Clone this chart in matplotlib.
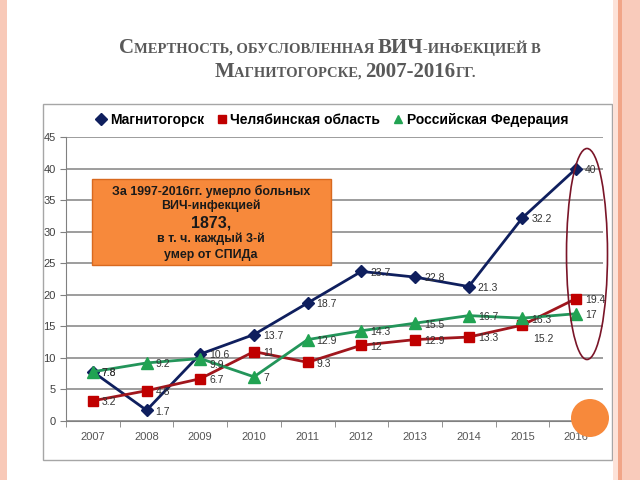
import matplotlib
matplotlib.use('Agg')
import matplotlib.pyplot as plt
import numpy as np
from matplotlib.patches import Rectangle, Ellipse

# data
years = ['2007', '2008', '2009', '2010', '2011', '2012', '2013', '2014', '2015', '2016']
magnitogorsk = [7.8, 1.7, 10.6, 13.7, 18.7, 23.7, 22.8, 21.3, 32.2, 40]
chelyabinsk = [3.2, 4.8, 6.7, 11, 9.3, 12, 12.9, 13.3, 15.2, 19.4]
russia = [7.8, 9.2, 9.9, 7, 12.9, 14.3, 15.5, 16.7, 16.3, 17]
names = ['Магнитогорск', 'Челябинская область', 'Российская Федерация']

W, H = 640, 480
fig = plt.figure(figsize=(6.4, 4.8), dpi=100)
fig.patch.set_facecolor('white')

def fx(px):
    return px / W

def fy(py):
    return 1 - py / H

# slide decorations
fig.add_artist(Rectangle((0, 0), fx(7), 1, transform=fig.transFigure, color='#f8c9b8', lw=0))
fig.add_artist(Rectangle((fx(613), 0), fx(5), 1, transform=fig.transFigure, color='#fde2d8', lw=0))
fig.add_artist(Rectangle((fx(618), 0), fx(4), 1, transform=fig.transFigure, color='#f1a588', lw=0))
fig.add_artist(Rectangle((fx(622), 0), fx(18), 1, transform=fig.transFigure, color='#f9cbbb', lw=0))

# chart frame
fig.add_artist(Rectangle((fx(43), fy(460)), fx(612 - 43), (460 - 104) / H,
                         transform=fig.transFigure, facecolor='white',
                         edgecolor='#a6a6a6', lw=1, zorder=0))

ax = fig.add_axes([fx(66), fy(421), fx(603 - 66), (421 - 137) / H])
ax.set_facecolor('none')
x = np.arange(len(years))

series = [
    (magnitogorsk, '#0f1f5e', 'D', 6.5, '#0f1f5e'),
    (chelyabinsk, '#a0161d', 's', 7.5, '#c00000'),
    (russia, '#23955a', '^', 8.5, '#21a352'),
]
for (vals, lc, mk, ms, mc), name in zip(series, names):
    ax.plot(x, vals, color=lc, lw=2, marker=mk, ms=ms, mfc=mc, mec=mc, label=name)

for vals in [magnitogorsk, chelyabinsk, russia]:
    for i, v in enumerate(vals):
        s = ('%g' % v)
        off = (6.5, -1)
        if vals is chelyabinsk and i == 8:
            off = (8, -10)
        if vals is russia and i == 2:
            off = (6.5, -5)
        ax.annotate(s, (x[i], v), xytext=off, textcoords='offset points',
                    va='center', ha='left', fontsize=7.5, color='#333333',
                    family='Liberation Sans')

ax.set_xlim(-0.5, 9.5)
ax.set_ylim(0, 45)
ax.set_yticks(np.arange(0, 46, 5))
ax.set_xticks(x)
ax.set_xticklabels(years)
ax.set_xticks(np.arange(-0.5, 10, 1), minor=True)
ax.tick_params(axis='x', which='major', length=0, labelsize=8, labelcolor='#555555', pad=8)
ax.tick_params(axis='x', which='minor', length=4, color='#808080', direction='out')
ax.tick_params(axis='y', length=4, color='#808080', labelsize=8, labelcolor='#404040')
for lbl in ax.get_xticklabels() + ax.get_yticklabels():
    lbl.set_family('Liberation Sans')
ax.grid(axis='y', color='#8c8c8c', lw=1.2)
ax.set_axisbelow(True)
for sp in ['top', 'right']:
    ax.spines[sp].set_visible(False)
ax.spines['left'].set_color('#808080')
ax.spines['bottom'].set_color('#808080')

leg = ax.legend(loc='center', bbox_to_anchor=(fx(332), fy(120)), bbox_transform=fig.transFigure,
                ncol=3, frameon=False, handlelength=0.8, handletextpad=0.2, columnspacing=0.9,
                prop={'family': 'Liberation Sans', 'weight': 'bold', 'size': 10})
for h in leg.legend_handles:
    h.set_linestyle('none')
    h.set_markersize(6)

# orange info box
fig.add_artist(Rectangle((fx(92), fy(265)), fx(331 - 92), (265 - 179) / H,
                         transform=fig.transFigure, facecolor='#f7893b',
                         edgecolor='#d8691f', lw=1, zorder=5))
box_lines = [
    ('За 1997-2016гг. умерло больных', 191, 8.9),
    ('ВИЧ-инфекцией', 206, 8.9),
    ('1873,', 223, 11.5),
    ('в т. ч. каждый 3-й', 239, 8.9),
    ('умер от СПИДа', 255, 8.9),
]
for s, py, fs in box_lines:
    fig.text(fx(211), fy(py), s, ha='center', va='center', fontsize=fs,
             family='Liberation Sans', weight='bold', color='#1a1a1a', zorder=6)

# highlight marks
fig.add_artist(Ellipse((fx(587), fy(254)), fx(41), 211 / H, transform=fig.transFigure,
                       fill=False, edgecolor='#7a1528', lw=1.2, zorder=6))
fig.add_artist(Ellipse((fx(590), fy(418)), fx(38), 38 / H, transform=fig.transFigure,
                       color='#f7893b', lw=0, zorder=6))

# small-caps title
renderer = fig.canvas.get_renderer()

def caps_line(pieces, cx, py):
    big, small = 15, 10.5
    arts = []
    for s, isbig in pieces:
        t = fig.text(0, fy(py), s if isbig else s.upper(), fontsize=big if isbig else small,
                     family='Liberation Serif', weight='bold', color='#595959',
                     va='baseline', ha='left')
        arts.append(t)
    widths = [a.get_window_extent(renderer).width for a in arts]
    xpos = cx - sum(widths) / 2
    for a, w in zip(arts, widths):
        a.set_x(fx(xpos))
        xpos += w

caps_line([('С', True), ('мертность, обусловленная ', False), ('ВИЧ', True),
           ('-инфекцией в', False)], 330, 53)
caps_line([('М', True), ('агнитогорске, ', False), ('2007-2016', True), ('гг.', False)], 345, 77)

fig.savefig('out.png', dpi=100)
